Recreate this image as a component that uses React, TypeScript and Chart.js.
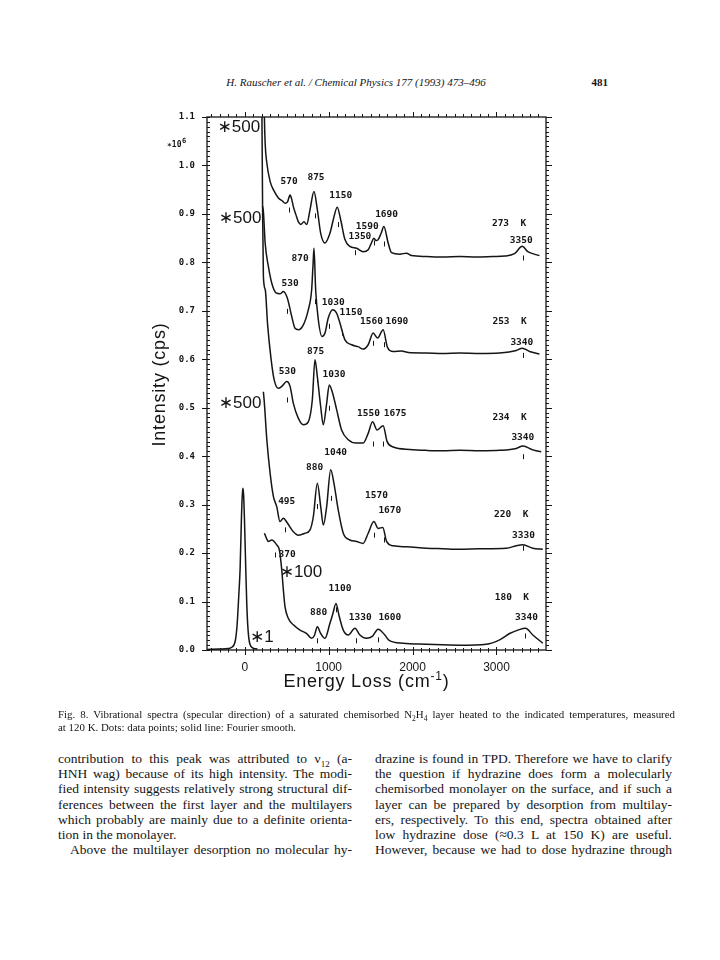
import React, { useEffect, useRef } from 'react';
import Chart from 'chart.js/auto';

// ---------- spectra (energy loss in cm^-1, intensity in 10^6 cps) ----------
const energy273 = [228, 234, 243, 263, 302, 341, 401, 453, 480, 510, 540, 560, 579, 610, 638, 667, 706, 738, 778, 825, 865, 905, 956, 1015, 1055, 1102, 1143, 1194, 1253, 1333, 1411, 1471, 1505, 1539, 1565, 1590, 1625, 1658, 1709, 1749, 1848, 1927, 1987, 2165, 2360, 2561, 2760, 2957, 3100, 3215, 3307, 3374, 3450, 3512];
const intensity273 = [1.18, 1.10, 1.046, 1.005, 0.967, 0.950, 0.933, 0.926, 0.922, 0.925, 0.939, 0.930, 0.915, 0.898, 0.884, 0.878, 0.884, 0.878, 0.909, 0.946, 0.909, 0.860, 0.840, 0.860, 0.888, 0.914, 0.888, 0.847, 0.833, 0.829, 0.822, 0.826, 0.838, 0.850, 0.845, 0.847, 0.860, 0.874, 0.840, 0.820, 0.817, 0.819, 0.814, 0.812, 0.811, 0.812, 0.811, 0.812, 0.813, 0.818, 0.833, 0.822, 0.817, 0.814];

const energy253 = [210, 215, 222, 243, 282, 322, 373, 420, 460, 508, 560, 599, 639, 698, 757, 797, 815, 825, 845, 877, 920, 956, 995, 1048, 1095, 1134, 1194, 1273, 1352, 1411, 1471, 1530, 1583, 1649, 1700, 1768, 1868, 1950, 2165, 2360, 2561, 2800, 3037, 3235, 3307, 3394, 3512];
const intensity253 = [0.916, 0.913, 0.905, 0.840, 0.791, 0.757, 0.737, 0.735, 0.740, 0.726, 0.688, 0.664, 0.661, 0.671, 0.702, 0.743, 0.800, 0.829, 0.743, 0.681, 0.647, 0.654, 0.685, 0.702, 0.695, 0.675, 0.640, 0.630, 0.626, 0.621, 0.630, 0.654, 0.644, 0.661, 0.625, 0.616, 0.617, 0.614, 0.613, 0.612, 0.613, 0.612, 0.613, 0.618, 0.623, 0.616, 0.611];

const energy234 = [203, 213, 222, 245, 272, 312, 350, 401, 441, 500, 540, 579, 639, 698, 757, 805, 837, 865, 905, 936, 976, 1007, 1047, 1095, 1154, 1233, 1333, 1411, 1471, 1523, 1578, 1649, 1697, 1768, 1966, 2165, 2360, 2561, 2800, 3037, 3235, 3314, 3433, 3533];
const intensity234 = [1.15, 0.90, 0.771, 0.743, 0.672, 0.603, 0.558, 0.540, 0.544, 0.554, 0.544, 0.509, 0.478, 0.465, 0.471, 0.516, 0.599, 0.564, 0.502, 0.465, 0.509, 0.547, 0.530, 0.496, 0.454, 0.434, 0.427, 0.427, 0.447, 0.471, 0.454, 0.463, 0.430, 0.419, 0.414, 0.412, 0.411, 0.412, 0.411, 0.412, 0.416, 0.421, 0.413, 0.409];

const energy220 = [222, 234, 263, 302, 341, 381, 420, 460, 508, 579, 639, 718, 778, 817, 865, 905, 936, 976, 1024, 1063, 1114, 1174, 1253, 1333, 1411, 1471, 1539, 1590, 1645, 1690, 1768, 1927, 2165, 2360, 2561, 2800, 3117, 3235, 3314, 3433, 3552];
const intensity220 = [0.533, 0.509, 0.434, 0.365, 0.317, 0.296, 0.265, 0.272, 0.262, 0.244, 0.237, 0.241, 0.248, 0.275, 0.344, 0.296, 0.258, 0.296, 0.372, 0.344, 0.289, 0.241, 0.227, 0.224, 0.220, 0.241, 0.265, 0.251, 0.253, 0.224, 0.215, 0.213, 0.210, 0.209, 0.208, 0.209, 0.210, 0.215, 0.217, 0.210, 0.208];

const energy180 = [234, 260, 282, 322, 381, 413, 441, 460, 480, 520, 579, 659, 738, 797, 830, 865, 905, 956, 1015, 1050, 1087, 1126, 1174, 1233, 1313, 1372, 1451, 1520, 1590, 1669, 1720, 1887, 2165, 2561, 2879, 3037, 3156, 3255, 3346, 3433, 3552];
const intensity180 = [0.241, 0.230, 0.224, 0.227, 0.217, 0.206, 0.165, 0.124, 0.089, 0.065, 0.052, 0.041, 0.034, 0.024, 0.030, 0.048, 0.034, 0.024, 0.055, 0.075, 0.096, 0.069, 0.041, 0.031, 0.045, 0.031, 0.024, 0.028, 0.043, 0.031, 0.020, 0.014, 0.012, 0.010, 0.012, 0.021, 0.034, 0.041, 0.045, 0.031, 0.014];

const energyElastic = [-450, -300, -200, -150, -112, -92, -72, -55, -40, -30, -22, -13, -2, 12, 25, 40, 60, 100, 150];
const intensityElastic = [0.001, 0.002, 0.003, 0.006, 0.02, 0.05, 0.11, 0.17, 0.27, 0.318, 0.334, 0.318, 0.26, 0.167, 0.09, 0.04, 0.013, 0.004, 0.002];

// ---------- axes ----------
const xMin = -450;
const xMax = 3590;
const yMin = 0;
const yMax = 1.1;
const xTickValues = [0, 1000, 2000, 3000];
const yTickValues = [0, 0.1, 0.2, 0.3, 0.4, 0.5, 0.6, 0.7, 0.8, 0.9, 1.0, 1.1];

// ---------- annotations (anchored in data units) ----------
const peakLabelText = ['570', '875', '1150', '1590', '1350', '1690', '3350',
  '870', '530', '1030', '1150', '1560', '1690', '3340',
  '875', '530', '1030', '1550', '1675', '3340',
  '1040', '880', '495', '1570', '1670', '3330',
  '370', '1100', '880', '1330', '1600', '3340'];
const peakLabelE = [528, 849, 1143, 1459, 1372, 1690, 3295,
  659, 540, 1055, 1265, 1511, 1813, 3302,
  845, 508, 1063, 1475, 1792, 3314,
  1083, 833, 500, 1570, 1729, 3322,
  504, 1134, 881, 1376, 1729, 3358];
const peakLabelI = [0.967, 0.976, 0.937, 0.873, 0.853, 0.898, 0.845,
  0.807, 0.757, 0.717, 0.696, 0.678, 0.678, 0.635,
  0.616, 0.575, 0.568, 0.487, 0.487, 0.439,
  0.407, 0.376, 0.306, 0.318, 0.288, 0.237,
  0.196, 0.126, 0.077, 0.067, 0.067, 0.067];

const tempLabelText = ['273  K', '253  K', '234  K', '220  K', '180  K'];
const tempLabelE = [3150, 3156, 3156, 3176, 3183];
const tempLabelI = [0.881, 0.678, 0.480, 0.279, 0.109];

const factorLabelText = ['\u2217500', '\u2217500', '\u2217500', '\u2217100', '\u22171'];
const factorLabelE = [-70, -55, -55, 670, 203];
const factorLabelI = [1.078, 0.891, 0.509, 0.160, 0.027];

const markerE = [528, 837, 1107, 1313, 1539, 1654, 3314,
  500, 837, 1000, 1154, 1530, 1658, 3314,
  500, 857, 1007, 1530, 1649, 3314,
  480, 865, 1024, 1539, 1658, 3314,
  361, 865, 1087, 1325, 1590, 3334];
const markerI = [0.908, 0.896, 0.878, 0.820, 0.840, 0.838, 0.809,
  0.699, 0.719, 0.668, 0.654, 0.633, 0.630, 0.608,
  0.516, 0.557, 0.499, 0.425, 0.425, 0.399,
  0.248, 0.296, 0.313, 0.237, 0.227, 0.210,
  0.196, 0.019, 0.083, 0.019, 0.021, 0.029];

const spectra = [
  { label: '273 K', e: energy273, i: intensity273 },
  { label: '253 K', e: energy253, i: intensity253 },
  { label: '234 K', e: energy234, i: intensity234 },
  { label: '220 K', e: energy220, i: intensity220 },
  { label: '180 K x100', e: energy180, i: intensity180 },
  { label: '180 K x1', e: energyElastic, i: intensityElastic },
];

const INK = '#151515';

const decorPlugin = {
  id: 'decor',
  afterDatasetsDraw(chart: any) {
    const { ctx, chartArea: a, scales } = chart;
    const x = scales.x;
    const y = scales.y;
    ctx.save();
    ctx.strokeStyle = INK;
    ctx.fillStyle = INK;

    // frame
    ctx.lineWidth = 1.3;
    ctx.strokeRect(a.left, a.top, a.right - a.left, a.bottom - a.top);

    // minor and major tick marks on all four sides
    ctx.lineWidth = 1;
    ctx.beginPath();
    for (let k = 0; k <= 110; k++) {
      const py = Math.round(y.getPixelForValue(k / 100)) + 0.5;
      const major = k % 10 === 0;
      ctx.moveTo(a.left - (major ? 5 : 0), py);
      ctx.lineTo(a.left + 3, py);
      ctx.moveTo(a.right, py);
      ctx.lineTo(a.right + (major ? 6 : 3), py);
    }
    for (let e = -400; e <= 3500; e += 100) {
      const px = Math.round(x.getPixelForValue(e)) + 0.5;
      const major = e % 1000 === 0;
      ctx.moveTo(px, a.top);
      ctx.lineTo(px, a.top - (major ? 5 : 3));
      ctx.moveTo(px, a.bottom - (major ? 3 : 2));
      ctx.lineTo(px, a.bottom + (major ? 5 : 2.5));
    }
    ctx.stroke();

    // peak position markers
    ctx.lineWidth = 1;
    ctx.beginPath();
    for (let k = 0; k < markerE.length; k++) {
      const px = Math.round(x.getPixelForValue(markerE[k])) + 0.5;
      const py = y.getPixelForValue(markerI[k]);
      ctx.moveTo(px, py - 2.5);
      ctx.lineTo(px, py + 2.5);
    }
    ctx.stroke();

    // peak labels
    ctx.textAlign = 'center';
    ctx.textBaseline = 'middle';
    ctx.font = 'bold 9.5px "DejaVu Sans Mono"';
    for (let k = 0; k < peakLabelText.length; k++) {
      ctx.fillText(peakLabelText[k], x.getPixelForValue(peakLabelE[k]), y.getPixelForValue(peakLabelI[k]));
    }
    ctx.font = 'bold 9.5px "DejaVu Sans Mono"';
    for (let k = 0; k < tempLabelText.length; k++) {
      ctx.fillText(tempLabelText[k], x.getPixelForValue(tempLabelE[k]), y.getPixelForValue(tempLabelI[k]));
    }
    ctx.font = '17px "Liberation Sans", "DejaVu Sans"';
    for (let k = 0; k < factorLabelText.length; k++) {
      ctx.fillText(factorLabelText[k], x.getPixelForValue(factorLabelE[k]), y.getPixelForValue(factorLabelI[k]));
    }

    // scale factor of the intensity axis
    ctx.textAlign = 'left';
    ctx.textBaseline = 'alphabetic';
    ctx.font = 'bold 8px "DejaVu Sans Mono"';
    const fx = a.left - 40;
    const fy = a.top + 30;
    ctx.fillText('\u221710', fx, fy);
    const w = ctx.measureText('\u221710').width;
    ctx.font = 'bold 7px "DejaVu Sans Mono"';
    ctx.fillText('6', fx + w + 0.5, fy - 4);

    // axis titles
    (ctx as any).letterSpacing = '0.8px';
    const t1 = 'Energy Loss (cm';
    const t2 = '-1';
    const t3 = ')';
    ctx.font = '18px "Liberation Sans"';
    const w1 = ctx.measureText(t1).width;
    const w3 = ctx.measureText(t3).width;
    ctx.font = '12px "Liberation Sans"';
    const w2 = ctx.measureText(t2).width;
    const cx = (a.left + a.right) / 2 - 10;
    const by = a.bottom + 37;
    let sx = cx - (w1 + w2 + w3) / 2;
    ctx.font = '18px "Liberation Sans"';
    ctx.fillText(t1, sx, by);
    sx += w1;
    ctx.font = '12px "Liberation Sans"';
    ctx.fillText(t2, sx, by - 7);
    sx += w2;
    ctx.font = '18px "Liberation Sans"';
    ctx.fillText(t3, sx, by);

    ctx.translate(a.left - 42, (a.top + a.bottom) / 2 + 1);
    ctx.rotate(-Math.PI / 2);
    ctx.textAlign = 'center';
    ctx.fillText('Intensity (cps)', 0, 0);
    ctx.restore();
  },
};

const serif = '"Liberation Serif", "Times New Roman", serif';

const leftLines = [
  'contribution to this peak was attributed to \u03bd<sub>12</sub> (a-',
  'HNH wag) because of its high intensity. The modi-',
  'fied intensity suggests relatively strong structural dif-',
  'ferences between the first layer and the multilayers',
  'which probably are mainly due to a definite orienta-',
  'tion in the monolayer.',
  'Above the multilayer desorption no molecular hy-',
];
const rightLines = [
  'drazine is found in TPD. Therefore we have to clarify',
  'the question if hydrazine does form a molecularly',
  'chemisorbed monolayer on the surface, and if such a',
  'layer can be prepared by desorption from multilay-',
  'ers, respectively. To this end, spectra obtained after',
  'low hydrazine dose (\u22480.3 L at 150 K) are useful.',
  'However, because we had to dose hydrazine through',
];

function Line({ html, left, top, width, justify, fontSize, lineHeight }: any) {
  return (
    <div
      style={{
        position: 'absolute', left, top, width, fontSize, lineHeight: lineHeight + 'px',
        textAlign: justify ? 'justify' : 'left', textAlignLast: justify ? 'justify' : 'left',
        fontFamily: serif, color: INK,
      } as any}
      dangerouslySetInnerHTML={{ __html: html }}
    />
  );
}

export default function App() {
  const ref = useRef<HTMLCanvasElement>(null);

  useEffect(() => {
    const datasets = spectra.map((s) => ({
      label: s.label,
      data: s.e.map((e, k) => ({ x: e, y: s.i[k] })),
      borderColor: INK,
      borderWidth: 1.5,
      pointRadius: 0,
      fill: false,
      cubicInterpolationMode: 'monotone',
    }));
    const chart = new Chart(ref.current as HTMLCanvasElement, {
      type: 'line',
      data: { datasets } as any,
      options: {
        responsive: false,
        animation: false,
        devicePixelRatio: 1,
        layout: { padding: { left: 47, top: 57, right: 44, bottom: 30 } },
        plugins: { legend: { display: false }, tooltip: { enabled: false } },
        scales: {
          x: {
            type: 'linear', min: xMin, max: xMax,
            afterFit: (s: any) => { s.height = 30; },
            afterBuildTicks: (s: any) => { s.ticks = xTickValues.map((v) => ({ value: v })); },
            grid: { display: false, drawTicks: false },
            border: { display: false },
            ticks: {
              font: { family: 'Liberation Sans', size: 12 }, color: INK, padding: 10,
              maxRotation: 0, autoSkip: false, callback: (v: any) => String(v),
            },
          },
          y: {
            type: 'linear', min: yMin, max: yMax,
            afterFit: (s: any) => { s.width = 40; },
            afterBuildTicks: (s: any) => { s.ticks = yTickValues.map((v) => ({ value: v })); },
            grid: { display: false, drawTicks: false },
            border: { display: false },
            ticks: {
              font: { family: 'DejaVu Sans Mono', size: 9, weight: 'bold' }, color: INK, padding: 12,
              autoSkip: false, callback: (v: any) => Number(v).toFixed(1),
            },
          },
        },
      } as any,
      plugins: [decorPlugin],
    });
    return () => chart.destroy();
  }, []);

  return (
    <div style={{ position: 'absolute', left: 0, top: 0, width: 720, height: 960, background: '#fff', overflow: 'hidden', color: INK }}>
      <div style={{ position: 'absolute', left: 156, top: 76, width: 400, textAlign: 'center', fontFamily: serif, fontStyle: 'italic', fontSize: 11, lineHeight: '12px' }}>
        H. Rauscher et al. / Chemical Physics 177 (1993) 473–496
      </div>
      <div style={{ position: 'absolute', left: 560, top: 76, width: 48, textAlign: 'right', fontFamily: serif, fontWeight: 'bold', fontSize: 11, lineHeight: '12px' }}>
        481
      </div>

      <canvas ref={ref} width={470} height={650} style={{ position: 'absolute', left: 120, top: 60, width: 470, height: 650 }} />

      <Line left={58} top={708} width={617} fontSize={10.9} lineHeight={13} justify
        html={'Fig. 8. Vibrational spectra (specular direction) of a saturated chemisorbed N<sub style="line-height:0;font-size:7.5px">2</sub>H<sub style="line-height:0;font-size:7.5px">4</sub> layer heated to the indicated temperatures, measured'} />
      <Line left={58} top={721} width={617} fontSize={10.9} lineHeight={13}
        html={'at 120 K. Dots: data points; solid line: Fourier smooth.'} />

      {leftLines.map((t, k) => (
        <Line key={'l' + k} left={k === 6 ? 70 : 58} top={751 + 15.2 * k} width={k === 6 ? 282 : 294} fontSize={13.5} lineHeight={15.2}
          justify={k !== 5} html={t.replace('<sub>', '<sub style="line-height:0;font-size:9px">')} />
      ))}
      {rightLines.map((t, k) => (
        <Line key={'r' + k} left={375} top={751 + 15.2 * k} width={297} fontSize={13.5} lineHeight={15.2}
          justify html={t} />
      ))}
    </div>
  );
}
